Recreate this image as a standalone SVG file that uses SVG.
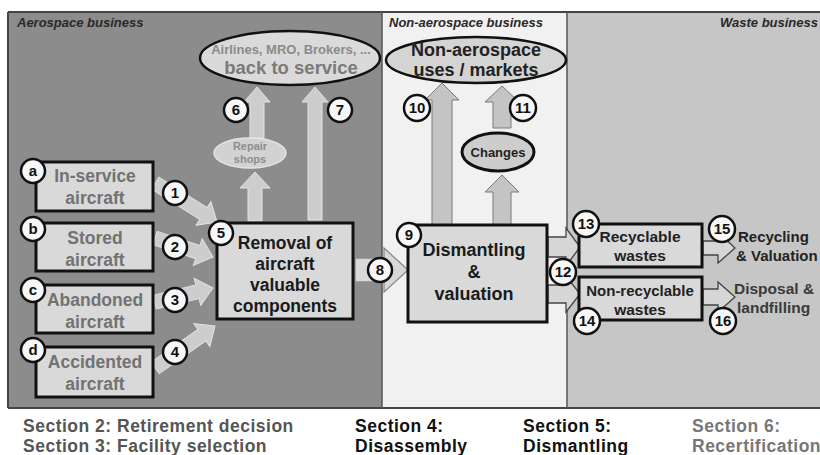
<svg xmlns="http://www.w3.org/2000/svg" width="820" height="455" viewBox="0 0 820 455">
<style>
.t{font-family:"Liberation Sans",Arial,sans-serif;font-weight:bold;text-anchor:middle}
.s{font-family:"Liberation Sans",Arial,sans-serif;font-weight:bold;text-anchor:start}
.box{fill:#d9d9d9;stroke:#111;stroke-width:3}
.ltxt{fill:#727272;font-size:17.5px}
.btxt{fill:#1a1a1a;font-size:17.5px}
.num{fill:#f7f7f7;stroke:#111;stroke-width:2.5}
.nt{font-size:15px;fill:#111}
.blk{fill:#cdcdcd;stroke:#e2e2e2;stroke-width:1}
.va{fill:#c4c4c4;stroke:#7a7a7a;stroke-width:1}
.oa{fill:#d6d6d6;stroke:#444;stroke-width:1.3}
.sec{font-family:"Liberation Sans",Arial,sans-serif;font-weight:bold;font-size:17.5px;letter-spacing:0.5px}
.hd{font-family:"Liberation Sans",Arial,sans-serif;font-style:italic;font-weight:bold;font-size:13px;fill:#2a2a2a}
</style>
<rect width="820" height="455" fill="#fff"/>
<!-- regions -->
<rect x="8" y="12" width="374" height="396" fill="#8c8c8c"/>
<rect x="382" y="12" width="185" height="396" fill="#f1f1f1"/>
<rect x="567" y="12" width="253" height="396" fill="#c6c6c6"/>
<path d="M8,12 H820 M8,408 H820 M8,12 V408" stroke="#444" stroke-width="2" fill="none"/>
<path d="M382,12 V408 M567,12 V408" stroke="#555" stroke-width="1.5" fill="none"/>
<text class="hd" x="17" y="27">Aerospace business</text>
<text class="hd" x="389" y="27" style="font-weight:600">Non-aerospace business</text>
<text class="hd" x="818" y="27" text-anchor="end">Waste business</text>

<g id="connectors">
  <!-- arrows 1-4 -->
  <g transform="translate(217,222) rotate(32.2)"><path class="blk" d="M0,0 L-16,-14 V-7 H-73 V7 H-16 V14 Z"/></g>
  <g transform="translate(213,257) rotate(18.1)"><path class="blk" d="M0,0 L-16,-14 V-7 H-61 V7 H-16 V14 Z"/></g>
  <g transform="translate(213,288) rotate(-13.6)"><path class="blk" d="M0,0 L-16,-14 V-7 H-60 V7 H-16 V14 Z"/></g>
  <g transform="translate(215,326) rotate(-35)"><path class="blk" d="M0,0 L-16,-14 V-7 H-73 V7 H-16 V14 Z"/></g>
  <!-- box5 -> repair shops -->
  <path class="blk" d="M255,172 L270,188 H262 V221 H248 V188 H240 Z"/>
  <!-- repair -> back to service (6) -->
  <path class="blk" d="M257,87 L270,102 H264 V138 H250 V102 H244 Z"/>
  <!-- 7 -->
  <path class="blk" d="M315,87 L328,102 H322 V220 H308 V102 H302 Z"/>
  <!-- 8 -->
  <path class="oa" style="fill:#d8d8d8;stroke:#8a8a8a" d="M355,258 H384 V248 L408,270 L384,292 V282 H355 Z"/>
  <!-- 10 -->
  <path class="va" d="M442,83 L459,100 H452 V225 H432 V100 H425 Z"/>
  <!-- 11 -->
  <path class="va" d="M502,86 L519,102 H511 V128 H493 V102 H485 Z"/>
  <!-- changes -->
  <path class="va" d="M502,175 L519,192 H511 V225 H493 V192 H485 Z"/>
  <!-- to recyclable -->
  <path class="oa" d="M548,237 H566 V228 L580,247 L566,266 V257 H548 Z"/>
  <!-- to non-recyclable -->
  <path class="oa" d="M548,285 H566 V276 L580,294 L566,312 V303 H548 Z"/>
  <!-- 15 -->
  <path class="oa" d="M703,241 H718 V232 L735,248 L718,263 V255 H703 Z"/>
  <!-- 16 -->
  <path class="oa" d="M703,289 H718 V282 L735,297 L718,312 V305 H703 Z"/>
</g>

<g id="back-to-service">
  <ellipse cx="290" cy="58" rx="90" ry="27" fill="#dadada" stroke="#111" stroke-width="2.5"/>
  <text class="t" x="291" y="54" font-size="13" fill="#8a8a8a">Airlines, MRO, Brokers, ...</text>
  <text class="t" x="291" y="74" font-size="18.5" fill="#7a7a7a">back to service</text>
</g>
<g id="repair-shops">
  <ellipse cx="250" cy="153" rx="36" ry="15" fill="#d2d2d2" stroke="#e4e4e4" stroke-width="1.5"/>
  <text class="t" x="250" y="150" font-size="11" fill="#8e8e8e">Repair</text>
  <text class="t" x="250" y="163" font-size="11" fill="#8e8e8e">shops</text>
</g>
<g id="non-aero-markets">
  <ellipse cx="476" cy="60" rx="90" ry="23" fill="#d4d4d4" stroke="#111" stroke-width="2.5"/>
  <text class="t" x="476" y="56" font-size="18" fill="#222">Non-aerospace</text>
  <text class="t" x="476" y="76" font-size="18" fill="#222">uses / markets</text>
</g>
<g id="changes">
  <ellipse cx="498" cy="152" rx="36" ry="19" fill="#cdcdcd" stroke="#111" stroke-width="3"/>
  <text class="t" x="498" y="157" font-size="13" fill="#222">Changes</text>
</g>

<g id="node-a">
  <rect class="box" x="36" y="162" width="117" height="49"/>
  <text class="t ltxt" x="95" y="182">In-service</text>
  <text class="t ltxt" x="95" y="204">aircraft</text>
</g>
<g id="node-b">
  <rect class="box" x="36" y="223" width="117" height="48"/>
  <text class="t ltxt" x="95" y="244">Stored</text>
  <text class="t ltxt" x="95" y="266">aircraft</text>
</g>
<g id="node-c">
  <rect class="box" x="36" y="285" width="117" height="48"/>
  <text class="t ltxt" x="95" y="306">Abandoned</text>
  <text class="t ltxt" x="95" y="328">aircraft</text>
</g>
<g id="node-d">
  <rect class="box" x="36" y="347" width="117" height="50"/>
  <text class="t ltxt" x="95" y="368">Accidented</text>
  <text class="t ltxt" x="95" y="390">aircraft</text>
</g>
<g id="node-5">
  <rect class="box" x="217" y="223" width="136" height="96"/>
  <text class="t btxt" x="285" y="249">Removal of</text>
  <text class="t btxt" x="285" y="270">aircraft</text>
  <text class="t btxt" x="285" y="291">valuable</text>
  <text class="t btxt" x="285" y="312">components</text>
</g>
<g id="node-9">
  <rect class="box" x="408" y="225" width="139" height="97"/>
  <text class="t btxt" x="474" y="256" style="font-size:18px">Dismantling</text>
  <text class="t btxt" x="474" y="278" style="font-size:18px">&amp;</text>
  <text class="t btxt" x="474" y="300" style="font-size:18px">valuation</text>
</g>
<g id="node-recyclable">
  <rect class="box" x="579" y="224" width="123" height="43"/>
  <text class="t" x="640" y="242" font-size="15.5" fill="#222">Recyclable</text>
  <text class="t" x="640" y="261" font-size="15.5" fill="#222">wastes</text>
</g>
<g id="node-nonrecyclable">
  <rect class="box" x="579" y="277" width="123" height="43"/>
  <text class="t" x="640" y="296" font-size="15" fill="#222">Non-recyclable</text>
  <text class="t" x="640" y="315" font-size="15.5" fill="#222">wastes</text>
</g>
<g id="recycling">
  <text class="s" x="738" y="242" font-size="15" fill="#222">Recycling</text>
  <text class="s" x="736" y="261" font-size="15" fill="#222">&amp; Valuation</text>
</g>
<g id="disposal">
  <text class="s" x="734" y="294" font-size="15.5" fill="#3a3a3a">Disposal &amp;</text>
  <text class="s" x="737" y="313" font-size="15.5" fill="#3a3a3a">landfilling</text>
</g>

<g id="labels">
  <circle class="num" cx="33" cy="171" r="12"/><text class="t nt" x="33" y="176">a</text>
  <circle class="num" cx="33" cy="229" r="12"/><text class="t nt" x="33" y="234">b</text>
  <circle class="num" cx="33" cy="290" r="12"/><text class="t nt" x="33" y="295">c</text>
  <circle class="num" cx="33" cy="350" r="12"/><text class="t nt" x="33" y="355">d</text>
  <circle class="num" cx="175" cy="193" r="12"/><text class="t nt" x="175" y="198">1</text>
  <circle class="num" cx="175" cy="247" r="12"/><text class="t nt" x="175" y="252">2</text>
  <circle class="num" cx="175" cy="300" r="12"/><text class="t nt" x="175" y="305">3</text>
  <circle class="num" cx="175" cy="352" r="12"/><text class="t nt" x="175" y="357">4</text>
  <circle class="num" cx="221" cy="233" r="12"/><text class="t nt" x="221" y="238">5</text>
  <circle class="num" cx="236" cy="110" r="12"/><text class="t nt" x="236" y="115">6</text>
  <circle class="num" cx="340" cy="110" r="12"/><text class="t nt" x="340" y="115">7</text>
  <circle class="num" cx="380" cy="270" r="12"/><text class="t nt" x="380" y="275">8</text>
  <circle class="num" cx="409" cy="235" r="12"/><text class="t nt" x="409" y="240">9</text>
  <circle class="num" cx="417" cy="108" r="13"/><text class="t nt" x="417" y="113">10</text>
  <circle class="num" cx="523" cy="108" r="13"/><text class="t nt" x="523" y="113">11</text>
  <circle class="num" cx="563" cy="272" r="13"/><text class="t nt" x="563" y="277">12</text>
  <circle class="num" cx="586" cy="224" r="13"/><text class="t nt" x="586" y="229">13</text>
  <circle class="num" cx="587" cy="321" r="13"/><text class="t nt" x="587" y="326">14</text>
  <circle class="num" cx="722" cy="229" r="13"/><text class="t nt" x="722" y="234">15</text>
  <circle class="num" cx="723" cy="321" r="13"/><text class="t nt" x="723" y="326">16</text>
</g>

<g id="sections">
  <text class="sec" x="23" y="432" fill="#555">Section 2: Retirement decision</text>
  <text class="sec" x="23" y="452" fill="#555">Section 3: Facility selection</text>
  <text class="sec" x="355" y="432" fill="#111">Section 4:</text>
  <text class="sec" x="355" y="452" fill="#111">Disassembly</text>
  <text class="sec" x="523" y="432" fill="#111">Section 5:</text>
  <text class="sec" x="523" y="452" fill="#111">Dismantling</text>
  <text class="sec" x="692" y="432" fill="#777">Section 6:</text>
  <text class="sec" x="692" y="452" fill="#777">Recertification</text>
</g>
</svg>
